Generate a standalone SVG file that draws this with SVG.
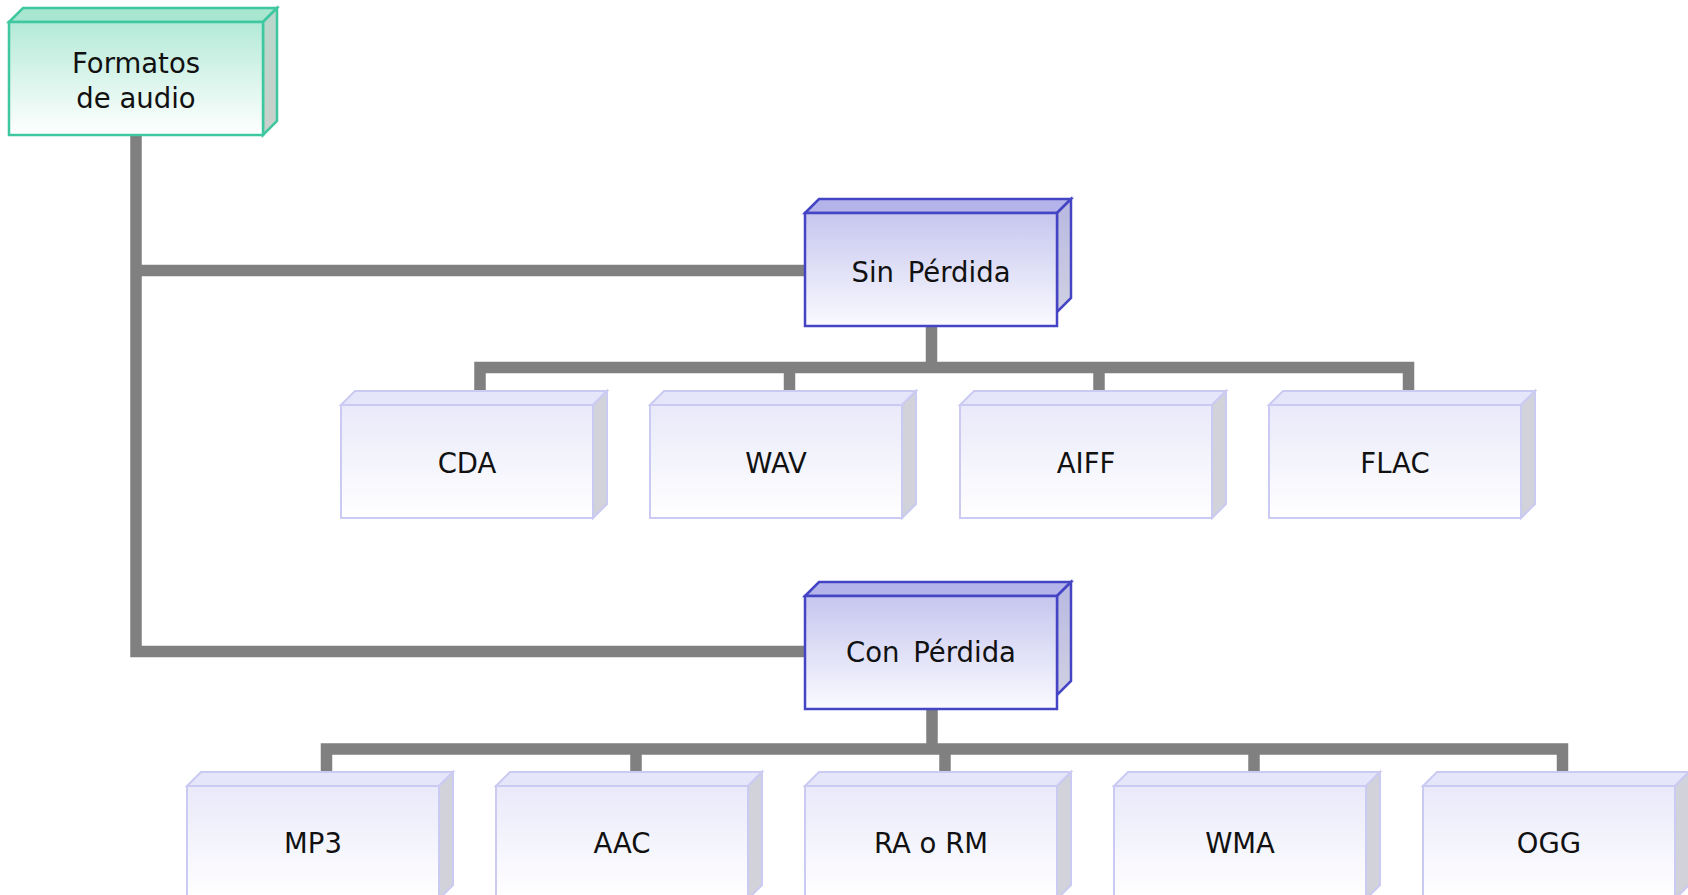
<svg xmlns="http://www.w3.org/2000/svg" width="1688" height="895" viewBox="0 0 1688 895">
<defs>
<linearGradient id="gRoot" x1="0" y1="0" x2="0" y2="1">
<stop offset="0" stop-color="#b4ead8"/>
<stop offset="1" stop-color="#ffffff"/>
</linearGradient>
<linearGradient id="gMid" x1="0" y1="0" x2="0" y2="1">
<stop offset="0" stop-color="#c6c6ef"/>
<stop offset="1" stop-color="#fafaff"/>
</linearGradient>
<linearGradient id="gLeaf" x1="0" y1="0" x2="0" y2="1">
<stop offset="0" stop-color="#e9e9fa"/>
<stop offset="1" stop-color="#ffffff"/>
</linearGradient>
<linearGradient id="gSideMid" x1="0" y1="0" x2="0" y2="1">
<stop offset="0" stop-color="#b8b8e2"/>
<stop offset="1" stop-color="#d0d0e2"/>
</linearGradient>
<linearGradient id="gSideRoot" x1="0" y1="0" x2="0" y2="1">
<stop offset="0" stop-color="#b8d8cc"/>
<stop offset="1" stop-color="#cad0cc"/>
</linearGradient>
<g id="leaf">
<polygon points="0,14 14,0 266,0 252,14" fill="#e6e6fa" stroke="#cacaf2" stroke-width="2"/>
<polygon points="252,14 266,0 266,113 252,127" fill="#d2d2da" stroke="#cacaf2" stroke-width="2"/>
<rect x="0" y="14" width="252" height="113" fill="url(#gLeaf)" stroke="#cacaf2" stroke-width="2"/>
</g>
<g id="mid">
<polygon points="0,14 14,0 266,0 252,14" fill="#b4b4ea" stroke="#4444c4" stroke-width="2.5"/>
<polygon points="252,14 266,0 266,99 252,113" fill="url(#gSideMid)" stroke="#4444c4" stroke-width="2.5"/>
<rect x="0" y="14" width="252" height="113" fill="url(#gMid)" stroke="#4444c4" stroke-width="2.5"/>
</g>
</defs>
<style>
.lbl{font-family:"DejaVu Sans",Verdana,sans-serif;font-size:27.5px;fill:#111;text-anchor:middle}
.conn{fill:none;stroke:#808080;stroke-width:11.5;stroke-linejoin:miter;stroke-linecap:butt}
</style>
<rect width="1688" height="895" fill="#ffffff"/>

<g id="connectors">
<path class="conn" d="M136,135 V651.5 H806"/>
<path class="conn" d="M136,270.5 H806"/>
<path class="conn" d="M931.5,327 V367.5"/>
<path class="conn" d="M480,393 V367.5 H1408.5 V393"/>
<path class="conn" d="M789.5,367.5 V393"/>
<path class="conn" d="M1099,367.5 V393"/>
<path class="conn" d="M932,708 V749"/>
<path class="conn" d="M326.5,773 V749 H1562.5 V773"/>
<path class="conn" d="M636,749 V773"/>
<path class="conn" d="M945,749 V773"/>
<path class="conn" d="M1254,749 V773"/>
</g>

<g id="root">
<polygon points="9,22 23,8 277,8 263,22" fill="#a9e6d0" stroke="#3fc7a0" stroke-width="2.5"/>
<polygon points="263,22 277,8 277,121 263,135" fill="url(#gSideRoot)" stroke="#3fc7a0" stroke-width="2.5"/>
<rect x="9" y="22" width="254" height="113" fill="url(#gRoot)" stroke="#3fc7a0" stroke-width="2.5"/>
<text class="lbl" x="136" y="73">Formatos</text>
<text class="lbl" x="136" y="108">de audio</text>
</g>

<g id="sin-perdida">
<use href="#mid" x="805" y="199"/>
<text class="lbl" x="931" y="282" word-spacing="5">Sin Pérdida</text>
</g>
<g id="con-perdida">
<use href="#mid" x="805" y="582"/>
<text class="lbl" x="931" y="662" word-spacing="5">Con Pérdida</text>
</g>

<g id="cda"><use href="#leaf" x="341" y="391"/><text class="lbl" x="467" y="473">CDA</text></g>
<g id="wav"><use href="#leaf" x="650" y="391"/><text class="lbl" x="776" y="473">WAV</text></g>
<g id="aiff"><use href="#leaf" x="960" y="391"/><text class="lbl" x="1086" y="473">AIFF</text></g>
<g id="flac"><use href="#leaf" x="1269" y="391"/><text class="lbl" x="1395" y="473">FLAC</text></g>

<g id="mp3"><use href="#leaf" x="187" y="772"/><text class="lbl" x="313" y="853">MP3</text></g>
<g id="aac"><use href="#leaf" x="496" y="772"/><text class="lbl" x="622" y="853">AAC</text></g>
<g id="ra-rm"><use href="#leaf" x="805" y="772"/><text class="lbl" x="931" y="853">RA o RM</text></g>
<g id="wma"><use href="#leaf" x="1114" y="772"/><text class="lbl" x="1240" y="853">WMA</text></g>
<g id="ogg"><use href="#leaf" x="1423" y="772"/><text class="lbl" x="1549" y="853">OGG</text></g>
</svg>
